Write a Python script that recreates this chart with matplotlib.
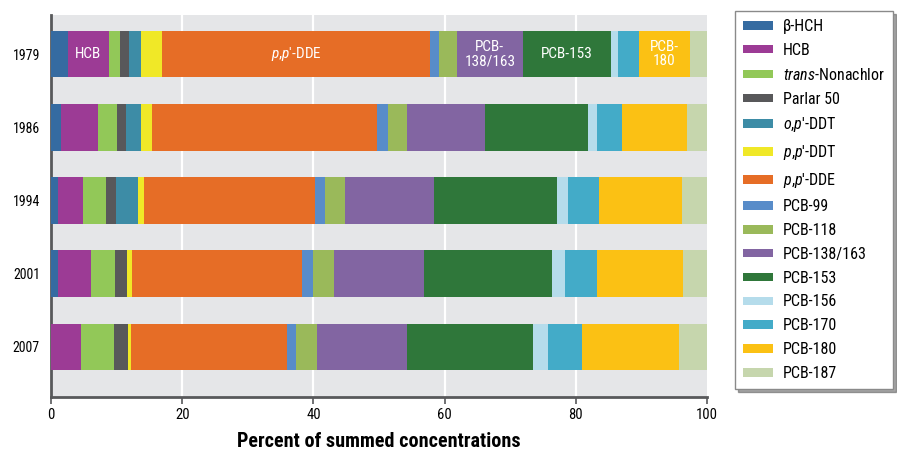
import matplotlib
matplotlib.use("Agg")
import matplotlib.pyplot as plt
from matplotlib import font_manager
import numpy as np

# prefer a narrow sans face, fall back to regular sans faces
installed = {f.name for f in font_manager.fontManager.ttflist}
narrow = [f.name for f in font_manager.fontManager.ttflist
          if f.stretch in ("condensed", "semi-condensed", "extra-condensed")
          or "Narrow" in f.name or "Condensed" in f.name]
candidates = ["Liberation Sans Narrow", "Roboto Condensed", "Open Sans Condensed",
              "DejaVu Sans Condensed"] + sorted(set(narrow)) + ["Liberation Sans", "Roboto"]
FONT = next((c for c in candidates if c in installed), "DejaVu Sans")

plt.rcParams['font.family'] = [FONT, 'DejaVu Sans']
plt.rcParams['mathtext.fontset'] = 'custom'
plt.rcParams['mathtext.rm'] = FONT
plt.rcParams['mathtext.it'] = FONT + ':italic'

PRIME = "\u2032"

years = ["1979", "1986", "1994", "2001", "2007"]

compounds = [
    "\u03b2-HCH", "HCB", r"$\mathit{trans}$-Nonachlor", "Parlar 50",
    r"$\mathit{o{,}p}$" + PRIME + "-DDT", r"$\mathit{p{,}p}$" + PRIME + "-DDT",
    r"$\mathit{p{,}p}$" + PRIME + "-DDE", "PCB-99", "PCB-118", "PCB-138/163",
    "PCB-153", "PCB-156", "PCB-170", "PCB-180", "PCB-187",
]

colors = [
    "#356ba1", "#9c3b95", "#92c858", "#58585a", "#3d8ca6", "#f0e827",
    "#e66d26", "#588cc9", "#9ab95a", "#8265a2", "#2f773a", "#b5dceb",
    "#43abc8", "#fbc114", "#c6d6ad",
]

# percent of summed concentrations, one list per year (compound order above)
pct_1979 = [2.55, 6.25, 1.7, 1.4, 1.8, 3.2, 40.9, 1.4, 2.7, 10.0, 13.4, 1.2, 3.1, 7.8, 2.6]
pct_1986 = [1.5, 5.6, 2.9, 1.4, 2.3, 1.7, 34.3, 1.7, 2.9, 11.9, 15.6, 1.5, 3.8, 9.8, 3.1]
pct_1994 = [1.0, 3.85, 3.5, 1.55, 3.3, 0.95, 26.15, 1.5, 3.0, 13.6, 18.7, 1.7, 4.7, 12.7, 3.8]
pct_2001 = [1.0, 5.05, 3.65, 1.85, 0.0, 0.75, 26.0, 1.6, 3.2, 13.8, 19.5, 2.0, 4.8, 13.1, 3.7]
pct_2007 = [0.0, 4.55, 5.05, 2.1, 0.0, 0.5, 23.8, 1.4, 3.2, 13.6, 19.2, 2.3, 5.3, 14.8, 4.2]

# segments labelled inside the 1979 bar
inbar_labels = {1: "HCB", 6: r"$\mathit{p{,}p}$" + PRIME + "-DDE",
                9: "PCB-\n138/163", 10: "PCB-153", 13: "PCB-\n180"}

data = np.array([pct_1979, pct_1986, pct_1994, pct_2001, pct_2007])

W, H = 897, 453
fig = plt.figure(figsize=(W / 100, H / 100), dpi=100)
ax = fig.add_axes([51 / W, (H - 397) / H, 656 / W, 382 / H])
ax.set_facecolor("#e5e6e8")

ypos = np.arange(len(years))
left = np.zeros(len(years))
handles = []
for i, (name, col) in enumerate(zip(compounds, colors)):
    vals = data[:, i]
    h = ax.barh(ypos, vals, left=left, height=0.64, color=col, label=name,
                linewidth=0, zorder=3)
    handles.append(h)
    if i in inbar_labels:
        ax.text(left[0] + vals[0] / 2, ypos[0], inbar_labels[i], color="white",
                ha="center", va="center", fontsize=11, zorder=4,
                linespacing=1.0)
    left += vals

ax.set_xlim(0, 100)
ax.set_ylim(4.683, -0.533)
ax.set_yticks(ypos)
ax.set_yticklabels(years, fontsize=10)
ax.tick_params(axis="y", length=0, pad=8)
ax.set_xticks([0, 20, 40, 60, 80, 100])
ax.tick_params(axis="x", length=5, width=1.2, color="#58595b", labelsize=10.5, pad=3)
for x in [20, 40, 60, 80]:
    ax.axvline(x, color="white", linewidth=1.6, zorder=1)

for s in ["top", "right"]:
    ax.spines[s].set_visible(False)
for s in ["left", "bottom"]:
    ax.spines[s].set_color("#58595b")
    ax.spines[s].set_linewidth(2)

ax.set_xlabel("Percent of summed concentrations", fontsize=14.5,
              fontweight="bold", labelpad=7)

leg = fig.legend(handles=handles, loc="upper left",
                 bbox_to_anchor=(735 / W, 1 - 11 / H), fontsize=11.5,
                 frameon=True, fancybox=False, shadow=True, edgecolor="#8a8a8a",
                 handlelength=1.9, handleheight=0.45, handletextpad=0.6,
                 labelspacing=0.555, borderpad=0.5, borderaxespad=0)
leg.get_frame().set_linewidth(1.0)

fig.savefig("out.png", dpi=100)
